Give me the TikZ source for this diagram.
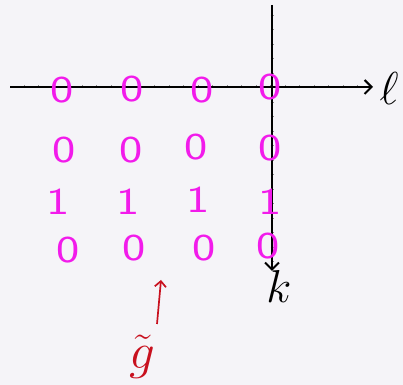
\documentclass[tikz,border=0pt]{standalone}
\usepackage{tikz}
\usetikzlibrary{arrows.meta}
\definecolor{gridpink}{HTML}{F21BEB}
\definecolor{markred}{HTML}{C8101E}
\definecolor{paperbg}{HTML}{F5F4F8}

\begin{document}
\begin{tikzpicture}[
  x=0.025cm, y=-0.025cm,
  digit/.style={font=\sffamily\fontsize{27}{27}\selectfont, text=gridpink, inner sep=0pt,
    xscale=1.3, transform shape},
  axis/.style={line width=1.4pt, black, -{Straight Barb[length=5pt, width=10pt, line width=1.4pt]}},
  tick/.style={line width=0.3pt, black!45},
  axislabel/.style={font=\fontsize{17}{17}\selectfont, inner sep=0pt, scale=1.9, transform shape}
]
% Paper and frame
\fill[paperbg] (0,0) rectangle (403,385);
\useasboundingbox (0,0) rectangle (403,385);

% Axes
\coordinate (lstart) at (10,87);
\coordinate (lend) at (373,87);
\coordinate (kstart) at (272,5);
\coordinate (kend) at (272,271);
\foreach \tx in {24,38.5,...,360} {\draw[tick] (\tx,85.5) -- (\tx,88.5);}
\foreach \ty in {15,29.5,...,262} {\draw[tick] (270.5,\ty) -- (273.5,\ty);}
\draw[axis] (lstart) -- (lend);
\draw[axis] (kstart) -- (kend);
\node[axislabel] (l) at (389,88) {$\ell$};
\node[axislabel] (k) at (279,286) {$k$};

% Row 0 (on the l axis)
\node[digit] (a0) at (62,90)  {0};
\node[digit] (b0) at (132,89) {0};
\node[digit] (c0) at (202,90) {0};
\node[digit] (d0) at (270,87) {0};

% Row 1
\node[digit] (a1) at (64,150)  {0};
\node[digit] (b1) at (131,150) {0};
\node[digit] (c1) at (196,147) {0};
\node[digit] (d1) at (270,148) {0};

% Row 2
\node[digit] (a2) at (58,202)  {1};
\node[digit] (b2) at (128,202) {1};
\node[digit] (c2) at (198,200) {1};
\node[digit] (d2) at (270,202) {1};

% Row 3
\node[digit] (a3) at (68,250)  {0};
\node[digit] (b3) at (134,248) {0};
\node[digit] (c3) at (204,248) {0};
\node[digit] (d3) at (268,246) {0};

% Marker under the second column
\node[font=\fontsize{17}{17}\selectfont, text=markred, inner sep=0pt, scale=2.1, transform shape]
  (g) at (142,357) {$\tilde{g}$};
\coordinate (gbase) at (157,324);
\coordinate (gtip) at (161,280);
\draw[markred, line width=1.2pt, -{Straight Barb[length=4pt, width=8pt, line width=1.2pt]}]
  (gbase) -- (gtip);

\end{tikzpicture}
\end{document}
